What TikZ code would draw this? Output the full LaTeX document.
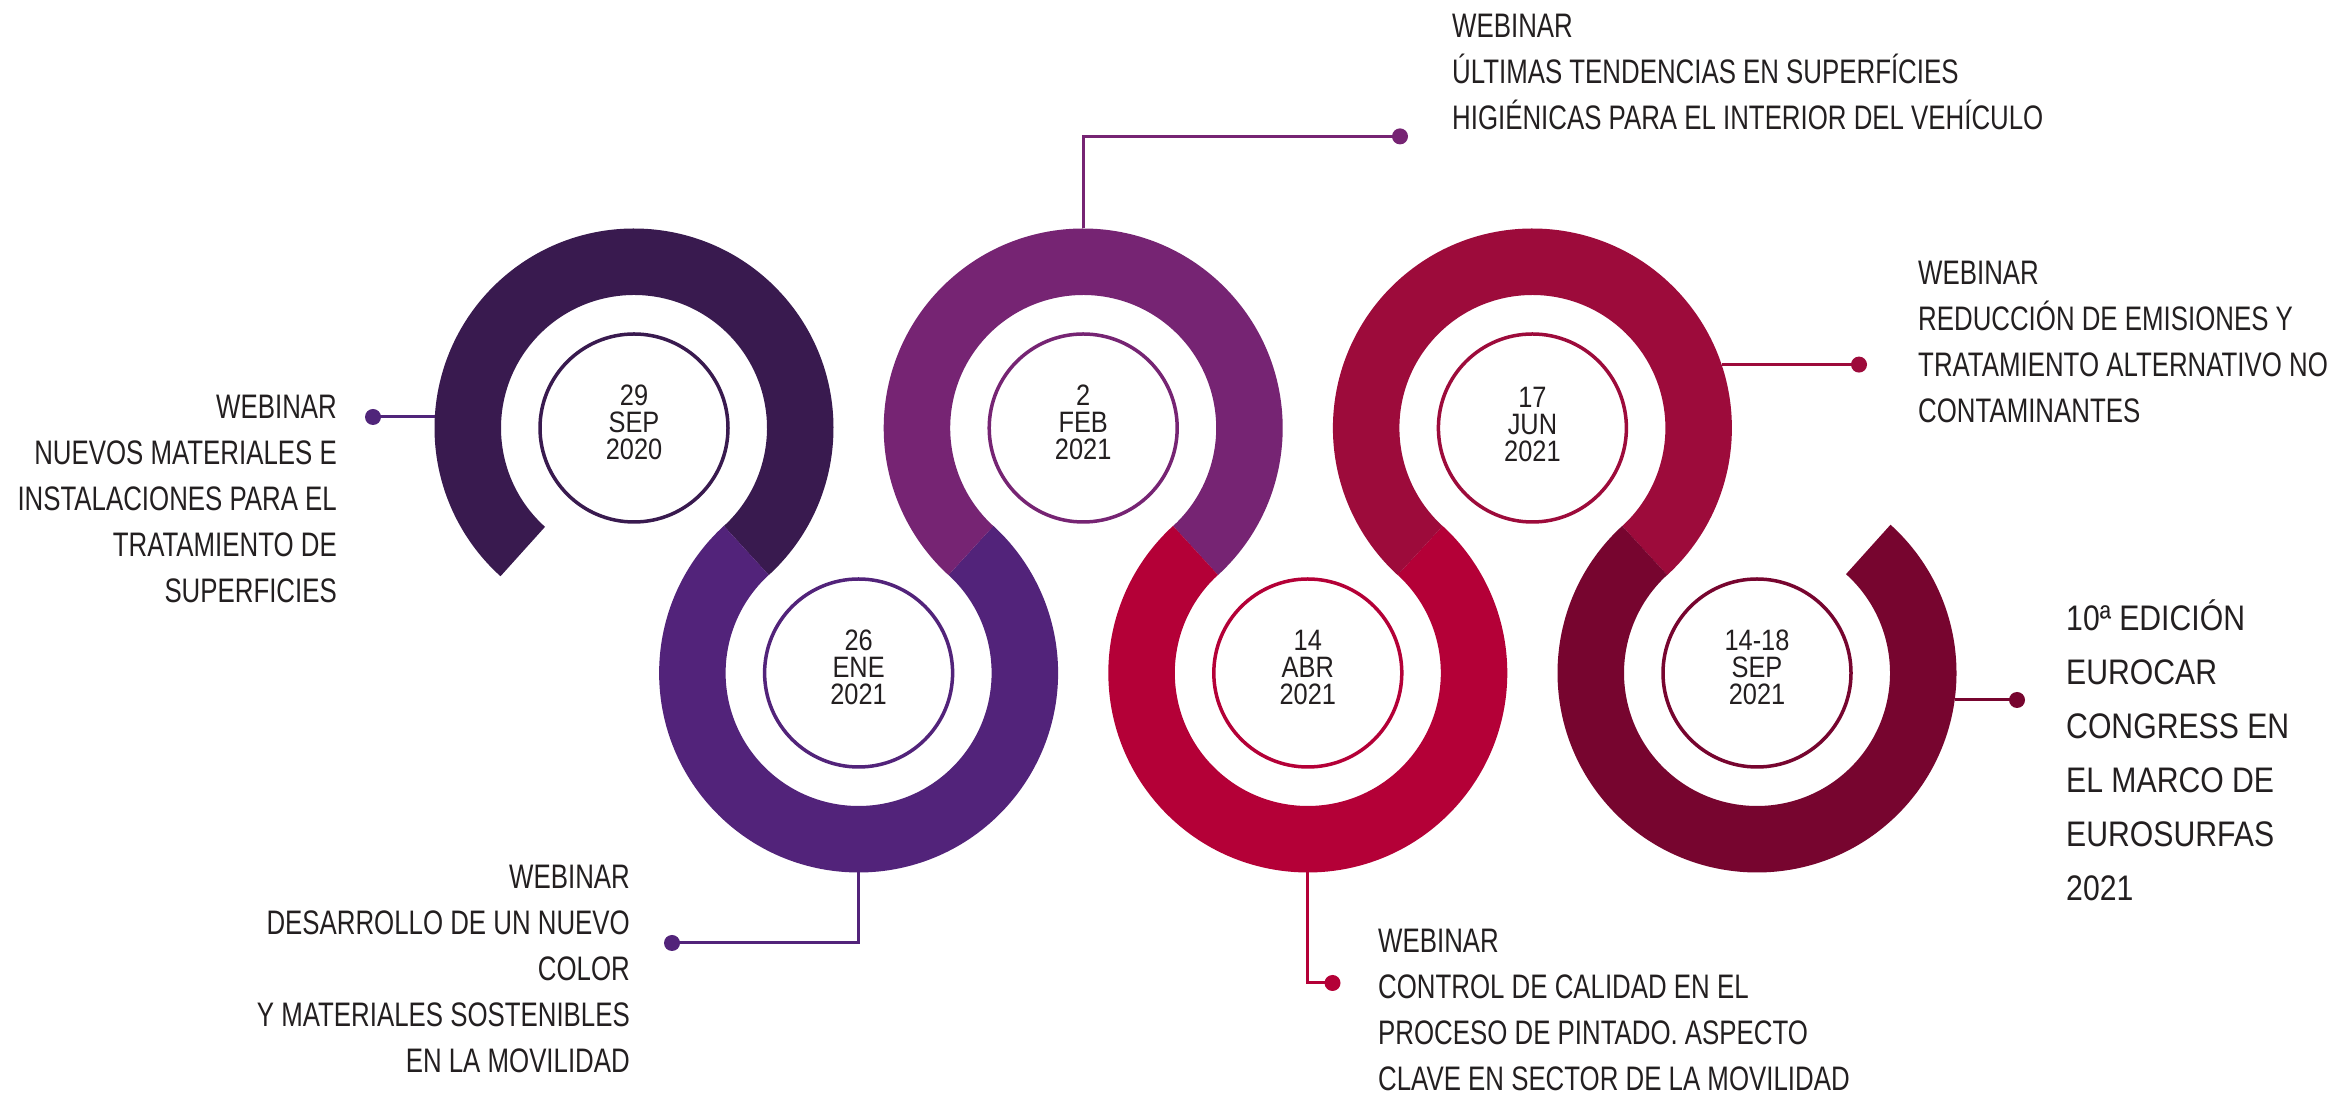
\documentclass[tikz,border=0pt]{standalone}
\usepackage{fontspec}
\setmainfont{Liberation Sans}
\newfontfamily\condfont[FakeStretch=0.76]{Liberation Sans}
\newfontfamily\datefont[FakeStretch=0.86]{Liberation Sans}
\newfontfamily\bigfont[FakeStretch=0.85]{Liberation Sans}
\usetikzlibrary{calc}
\definecolor{colA}{HTML}{391A4F}
\definecolor{colB}{HTML}{52237A}
\definecolor{colC}{HTML}{762473}
\definecolor{colD}{HTML}{B40037}
\definecolor{colE}{HTML}{9D0B3B}
\definecolor{colF}{HTML}{77052F}
\definecolor{lnA}{HTML}{50257A}
\definecolor{txt}{HTML}{231F20}
\newcommand\lbl[2]{\begin{tabular}[t]{@{}#1@{}}#2\end{tabular}}
\newcommand\band[4]{%
  \fill[#1] ($(#2)+(#3:199.5pt)$) arc[start angle=#3, end angle=#4, radius=199.5pt]
    -- ($(#2)+(#4:133pt)$) arc[start angle=#4, end angle=#3, radius=133pt] -- cycle;}
\tikzset{
  lead/.style={line width=3pt},
  dotnode/.style={circle, inner sep=0pt, minimum size=16pt},
  datering/.style={circle, inner sep=0pt, minimum size=188pt, line width=3.5pt},
  datetext/.style={text=txt, font={\datefont\fontsize{29.5}{27}\selectfont}, align=center, inner sep=0pt},
  lbltext/.style={text=txt, inner sep=0pt, font={\condfont\fontsize{34}{46}\selectfont}},
  bigtext/.style={text=txt, inner sep=0pt, font={\bigfont\fontsize{35.5}{54}\selectfont}}
}
\begin{document}
\begin{tikzpicture}[x=1pt,y=1pt]
\fill[white] (0,0) rectangle (2339,1094);
\useasboundingbox (0,0) rectangle (2339,1094);
\coordinate (C1) at (634,666);
\coordinate (C2) at (858.6,421);
\coordinate (C3) at (1083.2,666);
\coordinate (C4) at (1307.8,421);
\coordinate (C5) at (1532.4,666);
\coordinate (C6) at (1757,421);
% connectors
\node[dotnode, fill=lnA] (p1) at (373,677) {};
\coordinate (e1) at (436,677);
\draw[lead, lnA] (p1.center) -- (e1);
\node[dotnode, fill=colB] (p2) at (672,151) {};
\coordinate (e2) at (858.6,221.5);
\draw[lead, colB] (e2) |- (p2.center);
\node[dotnode, fill=colC] (p3) at (1400,957.6) {};
\coordinate (e3) at (1083.2,865.5);
\draw[lead, colC] (e3) |- (p3.center);
\node[dotnode, fill=colD] (p4) at (1332.5,111) {};
\coordinate (e4) at (1307.8,221.5);
\draw[lead, colD] (e4) |- (p4.center);
\node[dotnode, fill=colE] (p5) at (1859,729.4) {};
\coordinate (e5) at (1721.6,729.4);
\draw[lead, colE] (e5) -- (p5.center);
\node[dotnode, fill=colF] (p6) at (2017,394) {};
\coordinate (e6) at (1954.7,394);
\draw[lead, colF] (e6) -- (p6.center);
% bands
\band{colA}{C1}{-47.5}{228}
\band{colB}{C2}{132.5}{407.5}
\band{colC}{C3}{-47.5}{227.5}
\band{colD}{C4}{132.5}{407.5}
\band{colE}{C5}{-47.5}{227.5}
\band{colF}{C6}{132.5}{408}
% date circles
\node[datering, draw=colA] (r1) at (C1) {};
\node[datering, draw=colB] (r2) at (C2) {};
\node[datering, draw=colC] (r3) at (C3) {};
\node[datering, draw=colD] (r4) at (C4) {};
\node[datering, draw=colE] (r5) at (C5) {};
\node[datering, draw=colF] (r6) at (C6) {};
\node[datetext] (d1) at ($(C1)+(0,5.5)$) {29\\SEP\\2020};
\node[datetext] (d2) at ($(C2)+(0,5.5)$) {26\\ENE\\2021};
\node[datetext] (d3) at ($(C3)+(0,5.5)$) {2\\FEB\\2021};
\node[datetext] (d4) at ($(C4)+(0,5.5)$) {14\\ABR\\2021};
\node[datetext] (d5) at ($(C5)+(0,3)$) {17\\JUN\\2021};
\node[datetext] (d6) at ($(C6)+(0,5.5)$) {14-18\\SEP\\2021};
% labels
\node[lbltext, anchor=base east] (t1) at (337,675) {\lbl{r}{WEBINAR\\NUEVOS MATERIALES E\\INSTALACIONES PARA EL\\TRATAMIENTO DE\\SUPERFICIES}};
\node[lbltext, anchor=base east] (t2) at (630,205) {\lbl{r}{WEBINAR\\DESARROLLO DE UN NUEVO\\COLOR\\Y MATERIALES SOSTENIBLES\\EN LA MOVILIDAD}};
\node[lbltext, anchor=base west] (t3) at (1452,1056.4) {\lbl{l}{WEBINAR\\ÚLTIMAS TENDENCIAS EN SUPERFÍCIES\\HIGIÉNICAS PARA EL INTERIOR DEL VEHÍCULO}};
\node[lbltext, anchor=base west] (t4) at (1378,141) {\lbl{l}{WEBINAR\\CONTROL DE CALIDAD EN EL\\PROCESO DE PINTADO. ASPECTO\\CLAVE EN SECTOR DE LA MOVILIDAD\\[-12pt]}};
\node[lbltext, anchor=base west] (t5) at (1918,809.3) {\lbl{l}{WEBINAR\\REDUCCIÓN DE EMISIONES Y\\TRATAMIENTO ALTERNATIVO NO\\CONTAMINANTES}};
\node[bigtext, anchor=base west] (t6) at (2066,463) {\lbl{l}{10ª EDICIÓN\\EUROCAR\\CONGRESS EN\\EL MARCO DE\\EUROSURFAS\\2021}};
\end{tikzpicture}
\end{document}
